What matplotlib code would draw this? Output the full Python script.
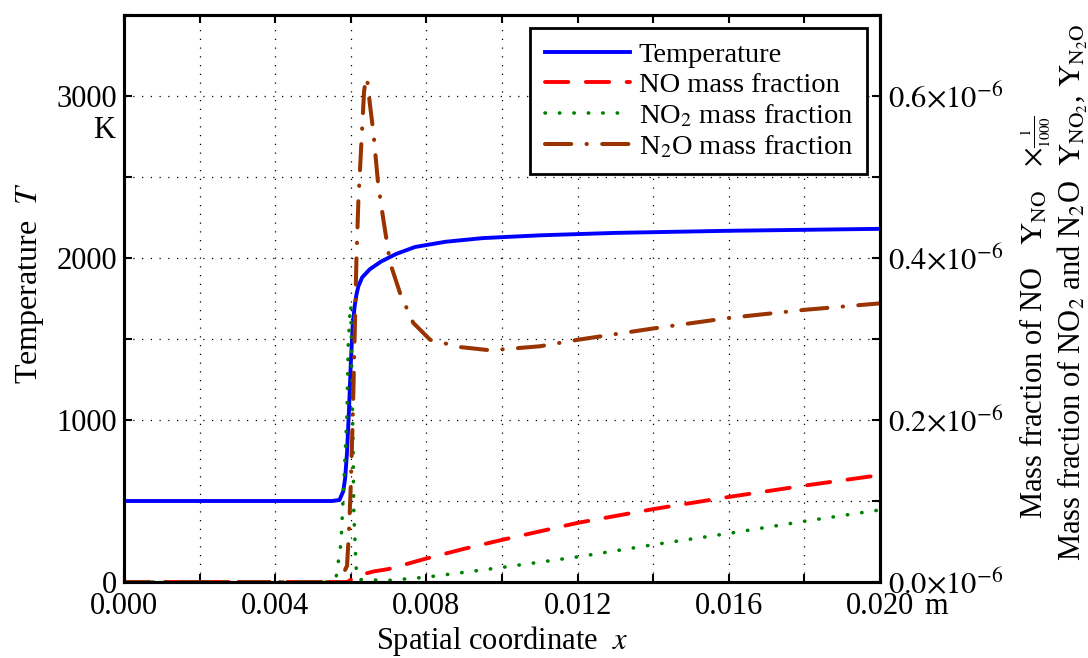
import matplotlib
matplotlib.use("Agg")
from matplotlib import pyplot as plt

# temperature [K] along x [m]
x_T = [0.0, 0.0055, 0.0057, 0.0058, 0.00585, 0.0059, 0.00595, 0.0060, 0.00605,
       0.0061, 0.00615, 0.0062, 0.0063, 0.0065, 0.0068, 0.0072, 0.0077, 0.0085,
       0.0095, 0.011, 0.013, 0.016, 0.020]
T = [500, 500, 506, 560, 640, 800, 1050, 1350, 1580,
     1700, 1775, 1825, 1880, 1930, 1978, 2025, 2068, 2100,
     2123, 2140, 2155, 2168, 2180]

# mass fractions, in units of 1e-6 (NO already scaled by 1/1000)
x_no = [0.0, 0.0059, 0.0062, 0.0066, 0.007, 0.008, 0.009, 0.010, 0.012, 0.014,
        0.016, 0.018, 0.020]
no = [0.0, 0.0, 0.008, 0.013, 0.016, 0.029, 0.041, 0.052, 0.073, 0.090,
      0.105, 0.119, 0.132]

x_no2 = [0.0, 0.0055, 0.0056, 0.00574, 0.00582, 0.0059, 0.00593, 0.00598, 0.0060,
         0.00603, 0.00606, 0.00608, 0.00614, 0.0062, 0.007, 0.008, 0.010, 0.012,
         0.014, 0.016, 0.018, 0.020]
no2 = [0.0, 0.0, 0.002, 0.048, 0.126, 0.208, 0.29, 0.335, 0.342,
       0.25, 0.167, 0.085, 0.018, 0.003, 0.002, 0.006, 0.018, 0.031,
       0.046, 0.060, 0.075, 0.089]

x_n2o = [0.0, 0.0057, 0.0059, 0.00595, 0.0060, 0.00605, 0.0061, 0.00615, 0.0062,
         0.0063, 0.00635, 0.0064, 0.00645, 0.0065, 0.0066, 0.00672, 0.00685, 0.00704,
         0.0073, 0.00765, 0.0081, 0.0089, 0.0097, 0.011, 0.012, 0.014, 0.016, 0.018, 0.020]
n2o = [0.0, 0.0, 0.02, 0.06, 0.12, 0.20, 0.30, 0.40, 0.47,
       0.56, 0.605, 0.623, 0.615, 0.592, 0.554, 0.493, 0.451, 0.394,
       0.357, 0.320, 0.299, 0.290, 0.286, 0.291, 0.299, 0.313, 0.326, 0.336, 0.344]

x_ticks = [0.000, 0.002, 0.004, 0.006, 0.008, 0.010, 0.012, 0.014, 0.016, 0.018, 0.020]
x_ticklabels = ['0.000', '', '0.004', '', '0.008', '', '0.012', '', '0.016', '', '0.020']
T_ticks = [0, 500, 1000, 1500, 2000, 2500, 3000, 3500]
T_ticklabels = ['0', '', '1000', '', '2000', '', '3000', '']
Y_ticks = [0.0, 0.1, 0.2, 0.3, 0.4, 0.5, 0.6, 0.7]
Y_ticklabels = [r'$0.0{\times}10^{-6}$', '', r'$0.2{\times}10^{-6}$', '',
                r'$0.4{\times}10^{-6}$', '', r'$0.6{\times}10^{-6}$', '']

plt.rcParams['font.family'] = ['Liberation Serif', 'DejaVu Serif']
plt.rcParams['mathtext.fontset'] = 'stix'
plt.rcParams['font.size'] = 22

fig = plt.figure(figsize=(10.88, 6.58), dpi=100)
ax = fig.add_axes([124 / 1088, 76 / 658, 756 / 1088, 567 / 658])
ax2 = ax.twinx()

l_T, = ax.plot(x_T, T, color='#0000ff', lw=2.8, label='Temperature', zorder=3)
l_no, = ax2.plot(x_no, no, color='#ff0000', lw=2.8, ls=(0, (6, 4.5)),
                 dash_capstyle='round', label='NO mass fraction')
l_no2, = ax2.plot(x_no2, no2, color='#008000', lw=2.6, ls=(0, (0.1, 3.9)),
                  dash_capstyle='round', label=r'NO$_2$ mass fraction')
l_n2o, = ax2.plot(x_n2o, n2o, color='#993300', lw=2.9, ls=(0, (6.5, 3.8, 0.1, 3.8)),
                  dash_capstyle='round', label=r'N$_2$O mass fraction')

ax.set_xlim(0, 0.020)
ax.set_ylim(0, 3500)
ax2.set_ylim(0, 0.7)
ax.set_xticks(x_ticks)
ax.set_xticklabels(x_ticklabels)
ax.set_yticks(T_ticks)
ax.set_yticklabels(T_ticklabels)
ax2.set_yticks(Y_ticks)
ax2.set_yticklabels(Y_ticklabels)

ax.grid(True, color='black', ls=(0, (1, 6)), lw=0.9)
ax.tick_params(direction='in', length=6, width=1.5, top=True, pad=5)
ax.tick_params(axis='x', pad=7)
ax2.tick_params(direction='in', length=6, width=1.5, pad=6)
for a in (ax, ax2):
    for s in a.spines.values():
        s.set_linewidth(2.2)

fig.text(115 / 1088, 1 - 130 / 658, 'K', ha='right', va='center')
fig.text(924 / 1088, 1 - 607 / 658, 'm', ha='left', va='center')

fig.text(30 / 1088, 1 - 283 / 658, r'Temperature  $T$', rotation=90,
         ha='center', va='center', fontsize=23)
ax.set_xlabel(r'Spatial coordinate  $x$', labelpad=2)
fig.text(1054 / 1088, 1 - 292 / 658,
         'Mass fraction of NO   $\\mathrm{Y}_{\\mathrm{NO}}$   $\\times\\genfrac{}{}{0.6}{2}{1}{1000}$' + ' ' * 7 + '\n'
         'Mass fraction of NO$_2$ and N$_2$O  $\\mathrm{Y}_{\\mathrm{NO_2}}$, $\\mathrm{Y}_{\\mathrm{N_2O}}$',
         rotation=90, ha='center', va='center', multialignment='center',
         fontsize=22, linespacing=1.12)

leg = ax2.legend(handles=[l_T, l_no, l_no2, l_n2o], loc='upper right',
                 bbox_to_anchor=(0.983, 0.977), borderaxespad=0, fontsize=20.5,
                 fancybox=False, framealpha=1, edgecolor='black',
                 handlelength=3.0, handletextpad=0.3, labelspacing=0.15,
                 borderpad=0.5)
leg.get_frame().set_linewidth(2)

fig.savefig('out.png', dpi=100)
